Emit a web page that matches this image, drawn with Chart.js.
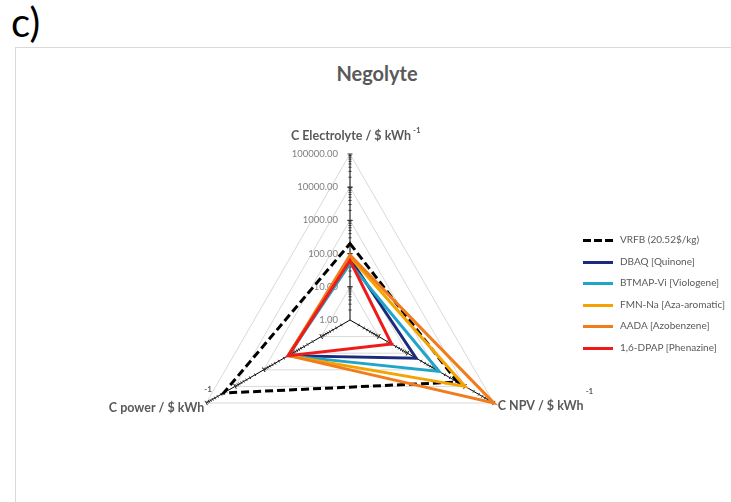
<!DOCTYPE html>
<html>
<head>
<meta charset="utf-8">
<script src="https://cdn.jsdelivr.net/npm/chart.js@4.4.1/dist/chart.umd.min.js"></script>
<style>
    html, body { margin: 0; padding: 0; background: #fff; overflow: hidden; }
    body { width: 731px; height: 502px; position: relative; font-family: Lato, 'Open Sans', sans-serif; }
    #painel { position: absolute; left: 11px; top: 2px; font-size: 40px; line-height: 40px; color: #000; }
    #moldura { position: absolute; left: 15px; top: 47px; width: 760px; height: 520px; border: 1px solid #d9d9d9; box-sizing: border-box; }
    #titulo { position: absolute; left: 15px; width: 724px; top: 61px; text-align: center; font-weight: bold; font-size: 20px; line-height: 24px; color: #595959; }
    #grafico { position: absolute; left: 15px; top: 47px; }
    #legenda { position: absolute; left: 583px; top: 229px; font-size: 10px; color: #595959; }
    .legenda-item { height: 21.6px; line-height: 21.6px; white-space: nowrap; }
    .legenda-linha { display: inline-block; width: 30px; height: 3px; vertical-align: middle; margin-right: 7px; }
</style>
</head>
<body>
<div id="painel">c)</div>
<div id="moldura"></div>
<div id="titulo">Negolyte</div>
<canvas id="grafico" width="716" height="455"></canvas>
<div id="legenda"></div>

<script>
// eixos do radar (topo, baixo-direita, baixo-esquerda)
const eixos = ['C Electrolyte / $ kWh', 'C NPV / $ kWh', 'C power / $ kWh'];
const ticks = [1, 10, 100, 1000, 10000, 100000];

const series = ['VRFB (20.52$/kg)', 'DBAQ [Quinone]', 'BTMAP-Vi [Viologene]',
                'FMN-Na [Aza-aromatic]', 'AADA [Azobenzene]', '1,6-DPAP [Phenazine]'];

// custos em $/kWh: electrolito, NPV, potencia
const vrfb  = [200, 5500, 25000];
const dbaq  = [70, 200, 140];
const btmap = [50, 1260, 140];
const fmnNa = [80, 10000, 140];
const aada  = [90, 100000, 140];
const dpap  = [62, 28, 140];

const CORES = ['#000000', '#1b2a7b', '#1ea5c9', '#f5a300', '#f07c1c', '#ee1b1b'];
const COR_TEXTO = '#595959';

// posicao dos titulos dos eixos em relacao a ponta de cada eixo
const POS_EIXOS = [
    { dx: 1,  dy: -18, align: 'center', supDx: 2, supDy: -6 },
    { dx: 4,  dy: 3,   align: 'left',   supDx: 2, supDy: -15 },
    { dx: -2, dy: 5,   align: 'right',  supDx: 0, supDy: -19 }
];

const valores = [vrfb, dbaq, btmap, fmnNa, aada, dpap];

// escala logaritmica: o radar trabalha em log10
const datasets = valores.map((v, i) => ({
    label: series[i],
    data: v.map(x => Math.log10(x)),
    borderColor: CORES[i],
    backgroundColor: 'transparent',
    borderWidth: 3,
    borderDash: i === 0 ? [8, 4] : [],
    borderJoinStyle: 'miter',
    pointRadius: 0,
    fill: false,
    clip: false,
    order: valores.length - i
}));

const decoracaoEixos = {
    id: 'decoracaoEixos',
    beforeDatasetsDraw(chart) {
        const { ctx } = chart;
        const r = chart.scales.r;
        ctx.save();

        // marcas menores ao longo de cada eixo
        ctx.strokeStyle = '#333';
        ctx.lineWidth = 1;
        for (let i = 0; i < eixos.length; i++) {
            const ang = r.getIndexAngle(i) - Math.PI / 2;
            const nx = -Math.sin(ang), ny = Math.cos(ang);
            for (let d = 0; d < 5; d++) {
                for (let k = 1; k <= 10; k++) {
                    const v = d + Math.log10(k);
                    if (v === 0) continue;
                    const p = r.getPointPositionForValue(i, v);
                    const len = (k === 1 || k === 10) ? 2.5 : 1.5;
                    ctx.beginPath();
                    ctx.moveTo(p.x - nx * len, p.y - ny * len);
                    ctx.lineTo(p.x + nx * len, p.y + ny * len);
                    ctx.stroke();
                }
            }
        }

        // etiquetas do eixo de valores
        ctx.font = '9.5px Lato';
        ctx.fillStyle = '#7f7f7f';
        ctx.textAlign = 'right';
        ctx.textBaseline = 'middle';
        ticks.forEach(t => {
            const p = r.getPointPositionForValue(0, Math.log10(t));
            ctx.fillText(t.toFixed(2), p.x - 12, p.y);
        });

        // titulos dos eixos com expoente -1
        eixos.forEach((texto, i) => {
            const pos = POS_EIXOS[i];
            const ponta = r.getPointPositionForValue(i, r.max);
            const x = ponta.x + pos.dx;
            const y = ponta.y + pos.dy;
            ctx.font = 'bold 12.5px Lato';
            ctx.fillStyle = COR_TEXTO;
            ctx.textAlign = pos.align;
            ctx.fillText(texto, x, y);
            const w = ctx.measureText(texto).width;
            let fim = x;
            if (pos.align === 'left') fim = x + w;
            if (pos.align === 'center') fim = x + w / 2;
            ctx.font = 'bold 8px Lato';
            ctx.textAlign = 'left';
            ctx.fillText('-1', fim + pos.supDx, y + pos.supDy);
        });

        ctx.restore();
    }
};

const grafico = new Chart(document.getElementById('grafico'), {
    type: 'radar',
    data: {
        labels: eixos,
        datasets: datasets
    },
    options: {
        responsive: false,
        devicePixelRatio: 1,
        animation: false,
        events: [],
        layout: {
            padding: { left: 169, right: 215, top: 107, bottom: 16 }
        },
        elements: {
            line: { tension: 0 }
        },
        scales: {
            r: {
                min: 0,
                max: 5,
                ticks: { display: false, stepSize: 1 },
                grid: { color: '#d9d9d9', lineWidth: 1 },
                angleLines: { color: '#000', lineWidth: 1 },
                pointLabels: { display: false }
            }
        },
        plugins: {
            legend: { display: false },
            title: { display: false },
            tooltip: { enabled: false }
        }
    },
    plugins: [decoracaoEixos]
});

// legenda em HTML, na ordem das series
document.getElementById('legenda').innerHTML = grafico.data.datasets.map(ds => {
    const fundo = ds.borderDash.length
        ? `repeating-linear-gradient(to right, ${ds.borderColor} 0 8px, transparent 8px 11px)`
        : ds.borderColor;
    return `
        <div class="legenda-item">
            <span class="legenda-linha" style="background: ${fundo};"></span>${ds.label}
        </div>`;
}).join('');
</script>
</body>
</html>
